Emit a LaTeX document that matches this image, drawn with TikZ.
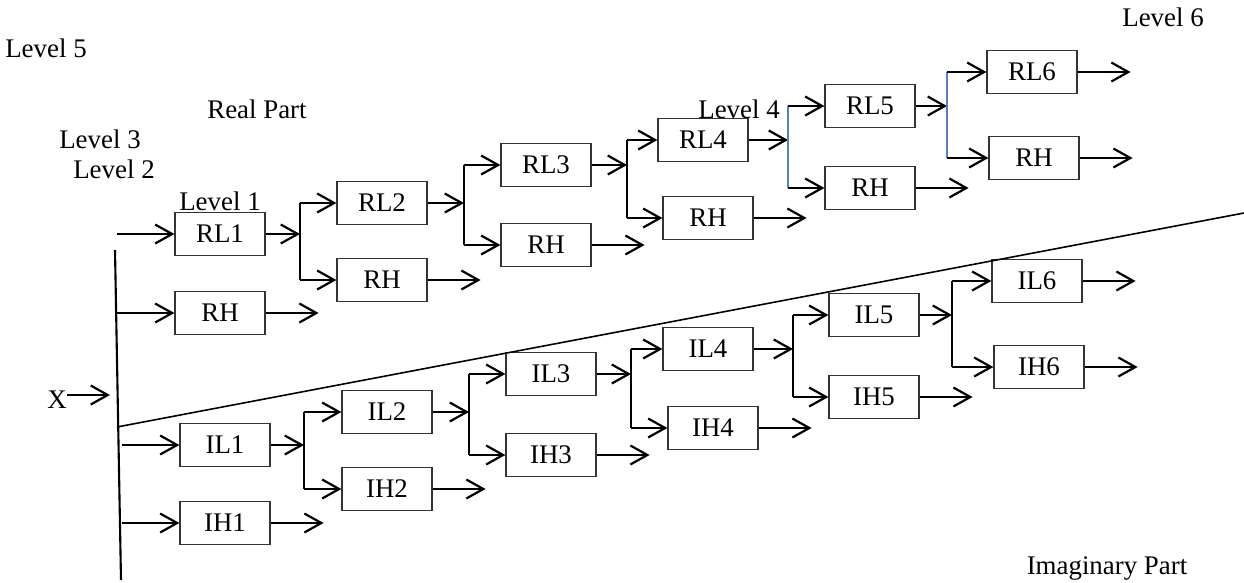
\documentclass[tikz,border=0pt]{standalone}
\usepackage{fontspec}
\setmainfont{Liberation Serif}
\usepackage{tikz}
\usetikzlibrary{arrows.meta,calc}
\definecolor{wblue}{HTML}{4F81BD}
\tikzset{
  >={Straight Barb[length=3.4mm,width=3.8mm]},
  wbox/.style={draw=black!80, line width=0.7pt, minimum width=1.8cm,
               minimum height=0.86cm, inner sep=0pt,
               font=\fontsize{15.3}{17}\selectfont},
  warr/.style={->, line width=1.25pt},
  wtree/.style={black, line width=1.25pt},
  wsplit/.style={wblue, line width=1.25pt},
  wbus/.style={line width=1.2pt},
  wcut/.style={line width=0.9pt},
  wlbl/.style={anchor=base, inner sep=0pt, font=\fontsize{15.3}{17}\selectfont},
}

\begin{document}
\begin{tikzpicture}[x=0.02cm,y=-0.02cm]
  \useasboundingbox (0,0) rectangle (1244,582);

  % labels
  \node[wlbl] (lv5) at (46,57) {Level 5};
  \node[wlbl] (lv6) at (1163,26) {Level 6};
  \node[wlbl] (real) at (257,118) {Real Part};
  \node[wlbl] (lv3) at (100,148) {Level 3};
  \node[wlbl] (lv2) at (114,178) {Level 2};
  \node[wlbl] (lv1) at (220,210) {Level 1};
  \node[wlbl] (lv4) at (739,118) {Level 4};
  \node[wlbl] (imag) at (1107,574) {Imaginary Part};
  \node[wlbl] (x) at (57,408) {X};

  % real part
  \node[wbox] (rl1) at (220,234) {RL1};
  \node[wbox] (rh1) at (220,313) {RH};
  \node[wbox] (rl2) at (382,203) {RL2};
  \node[wbox] (rh2) at (382,280) {RH};
  \node[wbox] (rl3) at (546,165) {RL3};
  \node[wbox] (rh3) at (546,245) {RH};
  \node[wbox] (rl4) at (703,140) {RL4};
  \node[wbox] (rh4) at (708,218) {RH};
  \node[wbox] (rl5) at (870,106) {RL5};
  \node[wbox] (rh5) at (870,188) {RH};
  \node[wbox] (rl6) at (1032,72) {RL6};
  \node[wbox] (rh6) at (1034,158) {RH};

  % imaginary part
  \node[wbox] (il1) at (225,445) {IL1};
  \node[wbox] (ih1) at (225,523) {IH1};
  \node[wbox] (il2) at (387,412) {IL2};
  \node[wbox] (ih2) at (387,489) {IH2};
  \node[wbox] (il3) at (551,374) {IL3};
  \node[wbox] (ih3) at (551,455) {IH3};
  \node[wbox] (il4) at (708,349) {IL4};
  \node[wbox] (ih4) at (713,428) {IH4};
  \node[wbox] (il5) at (874,315) {IL5};
  \node[wbox] (ih5) at (874,397) {IH5};
  \node[wbox] (il6) at (1037,281) {IL6};
  \node[wbox] (ih6) at (1039,367) {IH6};

  % input bus
  \coordinate (bt) at (115,250);
  \coordinate (bb) at (121,580);
  \draw[wbus] (bt) -- (bb);
  \coordinate (xin) at (110,395);
  \draw[warr] (x.east |- xin) -- (xin);
  \coordinate (in1) at (117,234);
  \coordinate (in2) at (116,313);
  \coordinate (in3) at (122,445);
  \coordinate (in4) at (122,523);
  \draw[warr] (in1) -- (rl1.west);
  \draw[warr] (in2) -- (rh1.west);
  \draw[warr] (in3) -- (il1.west);
  \draw[warr] (in4) -- (ih1.west);

  % separating line
  \coordinate (c1) at (117,427);
  \coordinate (c2) at (1244,213);
  \draw[wcut] (c1) -- (c2);

  % splits
  \foreach \a/\b/\c/\x/\s in {rl1/rl2/rh2/300/wtree, rl2/rl3/rh3/464/wtree,
      rl3/rl4/rh4/627/wtree, rl4/rl5/rh5/788/wsplit, rl5/rl6/rh6/947/wsplit,
      il1/il2/ih2/304/wtree, il2/il3/ih3/469/wtree, il3/il4/ih4/631/wtree,
      il4/il5/ih5/793/wtree, il5/il6/ih6/952/wtree}{
    \coordinate (sp) at (\x,0);
    \draw[warr] (\a.east) -- (sp |- \a.east);
    \draw[\s] (sp |- \b.west) -- (sp |- \c.west);
    \draw[warr] (sp |- \b.west) -- (\b.west);
    \draw[warr] (sp |- \c.west) -- (\c.west);
  }

  % outputs
  \foreach \n in {rh1,rh2,rh3,rh4,rh5,rh6,rl6,ih1,ih2,ih3,ih4,ih5,ih6,il6}{
    \coordinate (\n-o) at ($(\n.east)+(53,0)$);
    \draw[warr] (\n.east) -- (\n-o);
  }

\end{tikzpicture}
\end{document}
